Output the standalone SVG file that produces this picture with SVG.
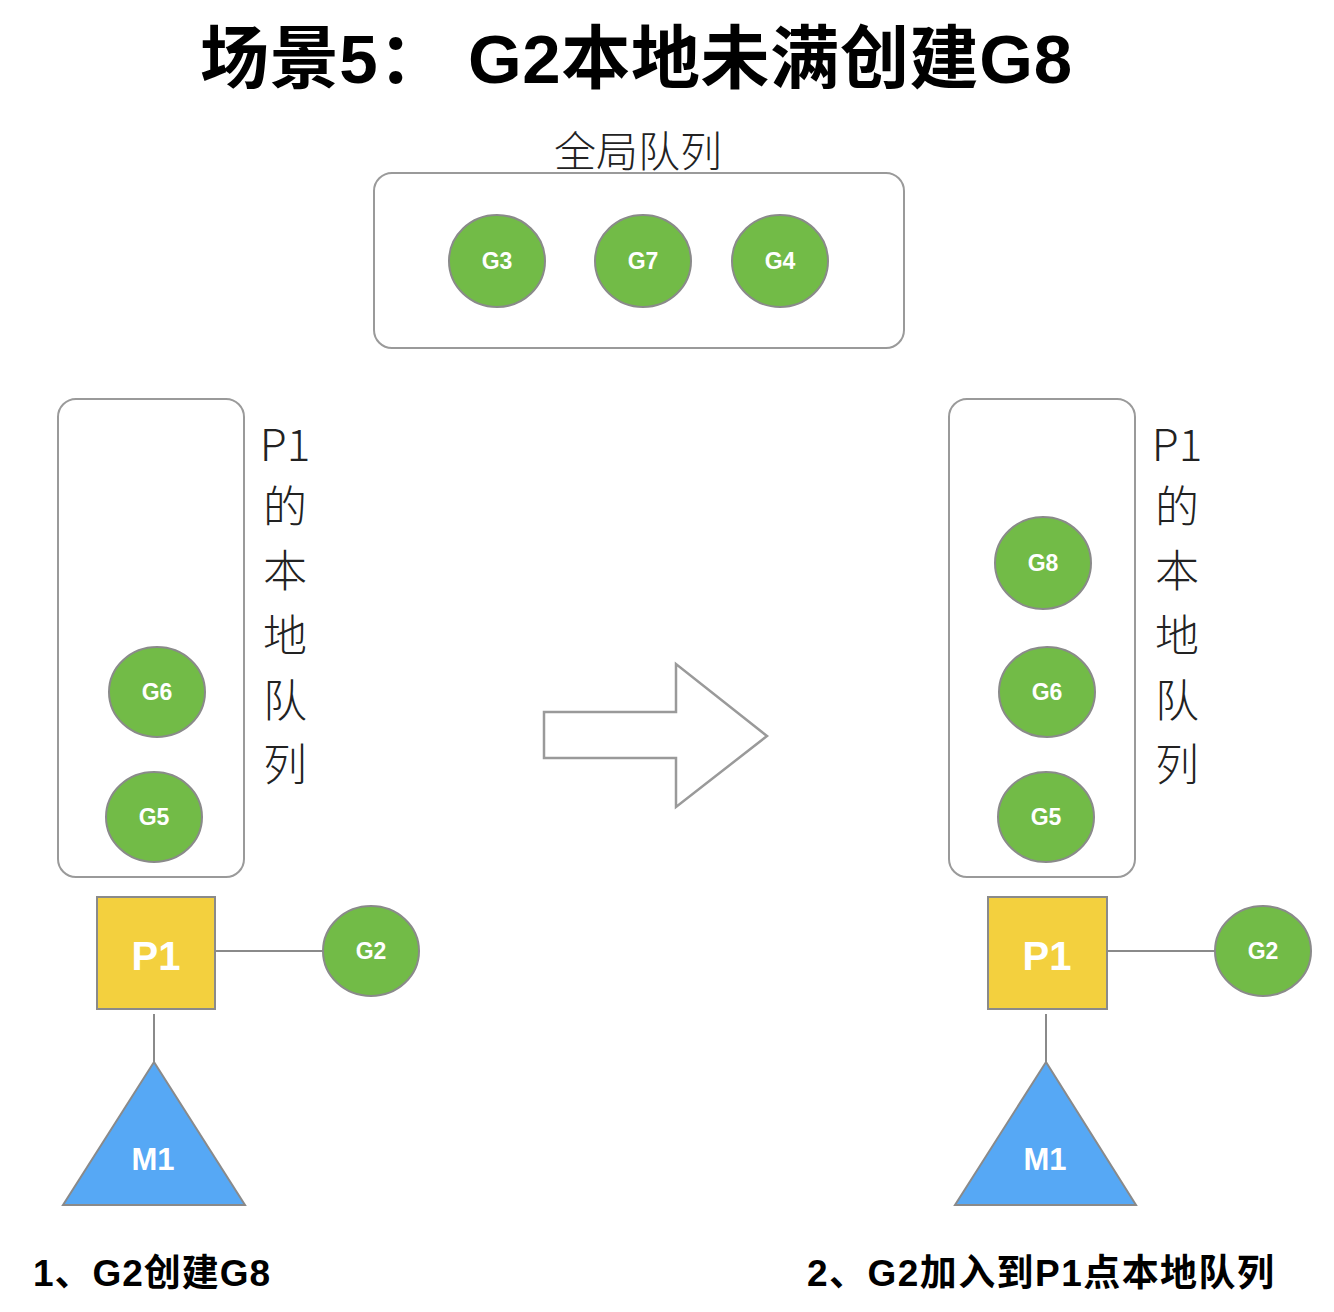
<svg xmlns="http://www.w3.org/2000/svg" width="1334" height="1312" viewBox="0 0 1334 1312">
<style>
.bg{fill:#ffffff}
.box{fill:#ffffff;stroke:#9a9a9a;stroke-width:2}
.g{fill:#72bb47;stroke:#8a8a8a;stroke-width:2}
.p{fill:#f3d03e;stroke:#8a8a8a;stroke-width:2}
.m{fill:#56a8f5;stroke:#8a8a8a;stroke-width:2}
.ln{stroke:#8a8a8a;stroke-width:2;fill:none}
.arrow{fill:#ffffff;stroke:#9a9a9a;stroke-width:2.5}
.lbl{font-family:"Liberation Sans","Noto Sans CJK SC",sans-serif;font-weight:bold;fill:#ffffff;text-anchor:middle}
.gl{font-size:23px}
.title{font-family:"Liberation Sans","Noto Sans CJK SC",sans-serif;font-weight:bold;font-size:69px;fill:#000}
.thin{font-family:"Noto Sans CJK SC","Liberation Sans",sans-serif;font-weight:300;fill:#222;text-anchor:middle}
.cap{font-family:"Liberation Sans","Noto Sans CJK SC",sans-serif;font-weight:bold;font-size:37px;fill:#000}
</style>
<rect class="bg" x="0" y="0" width="1334" height="1312"/>
<text class="title" x="200" y="83" textLength="872" lengthAdjust="spacing">场景5： G2本地未满创建G8</text>

<g id="global-queue">
<text class="thin" x="638" y="167" font-size="42">全局队列</text>
<rect class="box" x="374" y="173" width="530" height="175" rx="18"/>
</g>
<g id="G3"><ellipse class="g" cx="497" cy="261" rx="48" ry="46"/><text class="lbl gl" x="497" y="269">G3</text></g>
<g id="G7"><ellipse class="g" cx="643" cy="261" rx="48" ry="46"/><text class="lbl gl" x="643" y="269">G7</text></g>
<g id="G4"><ellipse class="g" cx="780" cy="261" rx="48" ry="46"/><text class="lbl gl" x="780" y="269">G4</text></g>

<g id="left-local-queue">
<rect class="box" x="58" y="399" width="186" height="478" rx="18"/>
<g class="thin" font-size="44">
<text x="285" y="461">P1</text>
<text x="285" y="523">的</text>
<text x="285" y="587">本</text>
<text x="285" y="652">地</text>
<text x="285" y="717">队</text>
<text x="285" y="781">列</text>
</g>
</g>
<g id="left-G6"><ellipse class="g" cx="157" cy="692" rx="48" ry="45"/><text class="lbl gl" x="157" y="700">G6</text></g>
<g id="left-G5"><ellipse class="g" cx="154" cy="817" rx="48" ry="45"/><text class="lbl gl" x="154" y="825">G5</text></g>

<g id="connectors">
<line class="ln" x1="215" y1="951" x2="323" y2="951"/>
<line class="ln" x1="154" y1="1014" x2="154" y2="1062"/>
<line class="ln" x1="1107" y1="951" x2="1215" y2="951"/>
<line class="ln" x1="1046" y1="1014" x2="1046" y2="1062"/>
</g>

<g id="left-P1"><rect class="p" x="97" y="897" width="118" height="112"/><text class="lbl" x="156" y="970" font-size="40">P1</text></g>
<g id="left-G2"><ellipse class="g" cx="371" cy="951" rx="48" ry="45"/><text class="lbl gl" x="371" y="959">G2</text></g>
<g id="left-M1"><polygon class="m" points="154,1062 245,1205 63,1205"/><text class="lbl" x="153" y="1170" font-size="31">M1</text></g>

<g id="transition-arrow">
<polygon class="arrow" points="544,712 676,712 676,664 767,736 676,807 676,758 544,758"/>
</g>

<g id="right-local-queue">
<rect class="box" x="949" y="399" width="186" height="478" rx="18"/>
<g class="thin" font-size="44">
<text x="1177" y="461">P1</text>
<text x="1177" y="523">的</text>
<text x="1177" y="587">本</text>
<text x="1177" y="652">地</text>
<text x="1177" y="717">队</text>
<text x="1177" y="781">列</text>
</g>
</g>
<g id="right-G8"><ellipse class="g" cx="1043" cy="563" rx="48" ry="46"/><text class="lbl gl" x="1043" y="571">G8</text></g>
<g id="right-G6"><ellipse class="g" cx="1047" cy="692" rx="48" ry="45"/><text class="lbl gl" x="1047" y="700">G6</text></g>
<g id="right-G5"><ellipse class="g" cx="1046" cy="817" rx="48" ry="45"/><text class="lbl gl" x="1046" y="825">G5</text></g>

<g id="right-P1"><rect class="p" x="988" y="897" width="119" height="112"/><text class="lbl" x="1047" y="970" font-size="40">P1</text></g>
<g id="right-G2"><ellipse class="g" cx="1263" cy="951" rx="48" ry="45"/><text class="lbl gl" x="1263" y="959">G2</text></g>
<g id="right-M1"><polygon class="m" points="1046,1062 1136,1205 955,1205"/><text class="lbl" x="1045" y="1170" font-size="31">M1</text></g>

<text class="cap" x="33" y="1286" textLength="237" lengthAdjust="spacing">1、G2创建G8</text>
<text class="cap" x="807" y="1286" textLength="467" lengthAdjust="spacing">2、G2加入到P1点本地队列</text>
</svg>
